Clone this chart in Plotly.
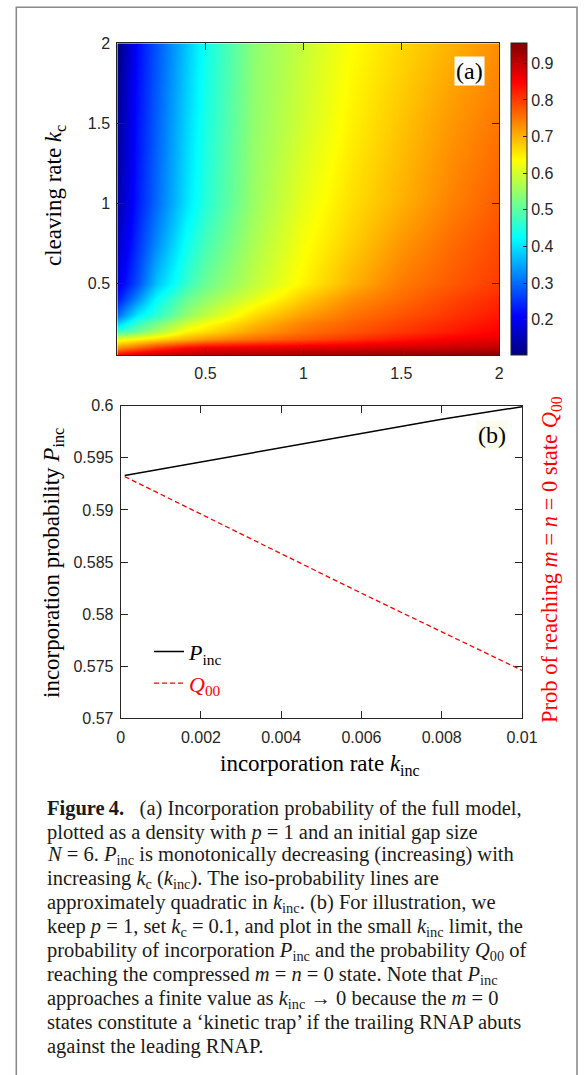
import plotly.graph_objects as go

W, H = 585, 1075

# ---------------- data: panel (a) density ----------------
kinc_grid = [0.05, 0.15, 0.25, 0.4, 0.5, 0.75, 1.0, 1.25, 1.5, 1.75, 2.0]
kc_grid = [0.05, 0.1, 0.15, 0.2, 0.25, 0.3, 0.4, 0.5, 0.75, 1.0, 1.5, 2.0]
p_inc_grid = [
    [0.86, 0.89, 0.905, 0.915, 0.92, 0.927, 0.933, 0.939, 0.944, 0.95, 0.955],   # kc=0.05
    [0.72, 0.76, 0.80, 0.84, 0.855, 0.865, 0.872, 0.879, 0.886, 0.893, 0.90],    # kc=0.1
    [0.62, 0.647, 0.67, 0.705, 0.728, 0.76, 0.785, 0.809, 0.834, 0.855, 0.87],   # kc=0.15
    [0.47, 0.513, 0.563, 0.64, 0.661, 0.716, 0.754, 0.778, 0.802, 0.826, 0.85],  # kc=0.2
    [0.38, 0.47, 0.52, 0.595, 0.63, 0.69, 0.74, 0.767, 0.792, 0.816, 0.84],      # kc=0.25
    [0.30, 0.409, 0.461, 0.545, 0.583, 0.665, 0.716, 0.753, 0.779, 0.804, 0.83], # kc=0.3
    [0.23, 0.33, 0.425, 0.51, 0.545, 0.615, 0.68, 0.73, 0.76, 0.79, 0.815],      # kc=0.4
    [0.19, 0.273, 0.371, 0.466, 0.512, 0.583, 0.644, 0.699, 0.746, 0.773, 0.80], # kc=0.5
    [0.16, 0.248, 0.325, 0.432, 0.48, 0.567, 0.63, 0.677, 0.723, 0.758, 0.787],  # kc=0.75
    [0.14, 0.23, 0.298, 0.40, 0.453, 0.553, 0.617, 0.663, 0.701, 0.74, 0.772],   # kc=1
    [0.125, 0.223, 0.289, 0.387, 0.444, 0.545, 0.598, 0.647, 0.685, 0.722, 0.75],# kc=1.5
    [0.103, 0.216, 0.28, 0.375, 0.435, 0.541, 0.589, 0.636, 0.668, 0.699, 0.73], # kc=2
]
a_ticks = [0.5, 1, 1.5, 2]
a_ticktext = ["0.5", "1", "1.5", "2"]
cb_ticks = [0.2, 0.3, 0.4, 0.5, 0.6, 0.7, 0.8, 0.9]
cb_ticktext = ["0.2", "0.3", "0.4", "0.5", "0.6", "0.7", "0.8", "0.9"]

# ---------------- data: panel (b) ----------------
kinc_small = [0.0001, 0.002, 0.004, 0.006, 0.008, 0.01]
p_inc_small = [0.5933, 0.5946, 0.5960, 0.5974, 0.5987, 0.5999]
q00_small = [0.5932, 0.5896, 0.5858, 0.5820, 0.5783, 0.5746]
b_xticks = [0, 0.002, 0.004, 0.006, 0.008, 0.01]
b_xticktext = ["0", "0.002", "0.004", "0.006", "0.008", "0.01"]
b_yticks = [0.57, 0.575, 0.58, 0.585, 0.59, 0.595, 0.6]
b_yticktext = ["0.57", "0.575", "0.58", "0.585", "0.59", "0.595", "0.6"]

caption_lines = [
    "<b>Figure\u20094.</b>\u2002 (a) Incorporation probability of the full model,",
    "plotted as a density with <i>p</i> = 1 and an initial gap size",
    "<i>N</i> = 6. <i>P</i><sub>inc</sub> is monotonically decreasing (increasing) with",
    "increasing <i>k</i><sub>c</sub> (<i>k</i><sub>inc</sub>). The iso-probability lines are",
    "approximately quadratic in <i>k</i><sub>inc</sub>. (b) For illustration, we",
    "keep <i>p</i> = 1, set <i>k</i><sub>c</sub> = 0.1, and plot in the small <i>k</i><sub>inc</sub> limit, the",
    "probability of incorporation <i>P</i><sub>inc</sub> and the probability <i>Q</i><sub>00</sub> of",
    "reaching the compressed <i>m</i> = <i>n</i> = 0 state. Note that <i>P</i><sub>inc</sub>",
    "approaches a finite value as <i>k</i><sub>inc</sub> \u2192 0 because the <i>m</i> = 0",
    "states constitute a \u2018kinetic trap\u2019 if the trailing RNAP abuts",
    "against the leading RNAP.",
]

# ---------------- styling helpers ----------------
def PX(x):
    return x / W

def PY(y):
    return 1 - y / H

AX = "#262626"
SANS = "Liberation Sans"
SERIF = "Liberation Serif"
tickfont = dict(family=SANS, size=16, color=AX)
titlefont = dict(family=SERIF, size=23, color="black")

jet = [[0, "rgb(0,0,128)"], [0.125, "rgb(0,0,255)"], [0.375, "rgb(0,255,255)"],
       [0.625, "rgb(255,255,0)"], [0.875, "rgb(255,0,0)"], [1, "rgb(128,0,0)"]]

zall = [v for row in p_inc_grid for v in row]

fig = go.Figure()
fig.add_trace(go.Heatmap(
    x=kinc_grid, y=kc_grid, z=p_inc_grid, colorscale=jet, zsmooth="best",
    zmin=min(zall), zmax=max(zall), xaxis="x", yaxis="y", hoverinfo="skip",
    colorbar=dict(
        x=PX(511), xanchor="left", y=PY(199.2), yanchor="middle",
        len=311.7 / H, lenmode="fraction", thickness=16, thicknessmode="pixels",
        xpad=0, ypad=0, outlinewidth=1, outlinecolor=AX,
        tickvals=cb_ticks, ticktext=cb_ticktext, ticks="inside", ticklen=4,
        tickcolor=AX, tickfont=tickfont,
    ),
))
fig.add_trace(go.Scatter(
    x=kinc_small, y=p_inc_small, mode="lines", xaxis="x2", yaxis="y2",
    line=dict(color="black", width=1.5), name="<i>P</i><sub>inc</sub>",
))
fig.add_trace(go.Scatter(
    x=kinc_small, y=q00_small, mode="lines", xaxis="x2", yaxis="y2",
    line=dict(color="#ff0000", width=1.3, dash="5px,3px"),
    name='<span style="color:#ff0000"><i>Q</i><sub>00</sub></span>',
))

common = dict(showline=True, linecolor=AX, linewidth=1, mirror="ticks", ticks="inside",
              ticklen=7, tickcolor=AX, tickwidth=1, showgrid=False, zeroline=False,
              tickfont=tickfont, automargin=False)

fig.update_layout(
    width=W, height=H, margin=dict(l=0, r=0, t=0, b=0),
    paper_bgcolor="white", plot_bgcolor="white",
    showlegend=True,
    legend=dict(x=PX(149), xanchor="left", y=PY(667.7), yanchor="middle",
                bgcolor="rgba(0,0,0,0)", borderwidth=0,
                font=dict(family=SERIF, size=22, color="black"), tracegroupgap=0),
    xaxis=dict(domain=[PX(117.3), PX(499.3)], range=[0.05, 2], anchor="y",
               tickvals=a_ticks, ticktext=a_ticktext, ticklabelstandoff=4, **common),
    yaxis=dict(domain=[PY(355), PY(43.3)], range=[0.05, 2], anchor="x",
               tickvals=a_ticks, ticktext=a_ticktext, ticklabelstandoff=3, **common),
    xaxis2=dict(domain=[PX(120.7), PX(522)], range=[0, 0.01], anchor="y2",
                tickvals=b_xticks, ticktext=b_xticktext, ticklabelstandoff=4, **common),
    yaxis2=dict(domain=[PY(718.3), PY(405.7)], range=[0.57, 0.6], anchor="x2",
                tickvals=b_yticks, ticktext=b_yticktext, ticklabelstandoff=3, **common),
)

ann = []
# axis titles
ann.append(dict(text="cleaving rate <i>k</i><sub>c</sub>", x=PX(55), y=PY(196),
                textangle=-90, font=titlefont))
ann.append(dict(text="incorporation probability <i>P</i><sub>inc</sub>", x=PX(53), y=PY(563),
                textangle=-90, font=titlefont))
ann.append(dict(text="incorporation rate <i>k</i><sub>inc</sub>", x=PX(320), y=PY(765),
                font=titlefont))
ann.append(dict(text="Prob of reaching <i>m</i> = <i>n</i> = 0 state <i>Q</i><sub>00</sub>",
                x=PX(551), y=PY(560), textangle=-90,
                font=dict(family=SERIF, size=22.5, color="#ff0000")))
# panel labels
ann.append(dict(text="(a)", x=PX(469), y=PY(71), bgcolor="white", borderpad=1,
                font=dict(family=SERIF, size=24, color="black")))
ann.append(dict(text="(b)", x=PX(491.7), y=PY(435), bgcolor="#fbfbee", borderpad=1,
                font=dict(family=SERIF, size=24, color="black")))
# caption
for i, line in enumerate(caption_lines):
    ann.append(dict(text=line, x=PX(45), y=PY(808.3 + i * 23.84), xanchor="left",
                    yanchor="middle", align="left",
                    font=dict(family=SERIF, size=20.5, color="#1a1a1a")))
for a in ann:
    a.setdefault("xref", "paper")
    a.setdefault("yref", "paper")
    a.setdefault("showarrow", False)
    a.setdefault("xanchor", "center")
    a.setdefault("yanchor", "middle")
fig.update_layout(annotations=ann)

# outer frame of the figure panel
fig.add_shape(type="rect", xref="paper", yref="paper",
              x0=PX(16.3), x1=PX(577), y0=-0.02, y1=PY(7.3),
              line=dict(color="#8a8a8a", width=1.6), fillcolor="rgba(0,0,0,0)", layer="below")

fig.write_html("out.html")
